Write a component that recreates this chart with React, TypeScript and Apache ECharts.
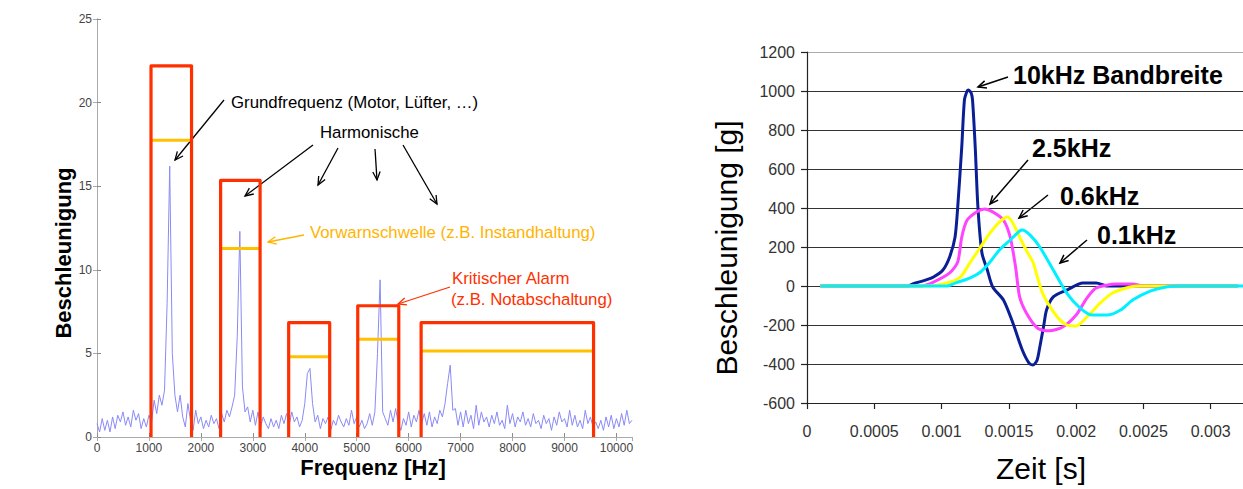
import React, { useEffect, useRef } from 'react';
import * as echarts from 'echarts';

// ---------- Left chart: vibration spectrum ----------
const FREQ_STEP_HZ = 50;
// amplitude every 50 Hz, from 0 Hz to 10300 Hz
const spectrumAmplitude = [
  0.8, 0.3, 1.1, 0.4, 1.0, 0.3, 1.2, 0.5, 1.3, 0.9, 1.5, 0.7, 1.2, 0.6, 1.6, 1.0, 1.4, 0.5, 1.1, 0.6,
  1.3, 0.9, 2.2, 1.4, 2.5, 1.9, 2.8, 8.0, 16.2, 5.0, 2.5, 1.5, 2.5, 1.2, 0.6, 2.0, 1.0, 0.4, 1.6, 0.8,
  1.2, 0.5, 1.0, 0.6, 1.3, 0.8, 1.1, 0.5, 1.4, 0.9, 1.6, 1.2, 1.8, 2.5, 6.0, 12.3, 3.0, 1.5, 1.8, 0.9,
  1.6, 0.7, 1.5, 0.6, 1.2, 0.8, 0.5, 1.1, 0.6, 1.0, 0.5, 1.3, 0.8, 1.4, 0.7, 1.5, 0.9, 1.2, 0.6, 1.0,
  2.0, 3.8, 4.1, 2.0, 0.9, 1.3, 0.5, 1.1, 0.8, 1.2, 0.4, 1.0, 0.7, 1.3, 0.9, 0.6, 1.1, 0.7, 1.6, 0.8,
  1.2, 0.6, 1.0, 0.5, 0.8, 1.4, 0.7, 1.5, 5.0, 9.4, 1.5, 1.1, 0.7, 1.6, 0.9, 1.7, 0.8, 0.4, 1.1, 0.7,
  1.5, 0.6, 1.3, 0.9, 1.6, 0.8, 1.4, 0.7, 1.5, 0.6, 1.2, 0.8, 1.6, 1.2, 2.0, 3.2, 4.3, 1.6, 1.7, 0.7,
  1.5, 0.6, 1.6, 0.8, 1.3, 0.5, 1.9, 0.7, 1.5, 0.9, 1.2, 0.6, 1.3, 0.8, 1.5, 0.7, 1.0, 0.5, 1.9, 0.8,
  1.4, 0.6, 1.2, 0.9, 1.5, 0.7, 1.1, 0.6, 1.4, 0.8, 1.0, 0.5, 1.3, 0.8, 1.1, 0.4, 1.2, 0.7, 1.5, 0.9,
  1.1, 0.6, 1.6, 0.7, 1.3, 0.6, 1.0, 0.5, 1.6, 0.8, 1.2, 0.6, 0.9, 0.5, 1.0, 0.4, 1.2, 0.6, 1.3, 0.5,
  1.1, 0.6, 1.4, 0.7, 1.6, 0.8, 1.0,
];

// monitoring bands
const bandStartHz = [1040, 2380, 3690, 5020, 6240];
const bandEndHz = [1820, 3140, 4480, 5810, 9560];
const alarmLevel = [22.2, 15.35, 6.84, 7.85, 6.84];
const warnLevel = [17.75, 11.28, 4.8, 5.84, 5.14];

// ---------- Right chart: shock pulse for different bandwidths ----------
const bandwidthLabels = ['10kHz Bandbreite', '2.5kHz', '0.6kHz', '0.1kHz'];
const pulse10k: [number, number][] = [
  [0.0001, 0], [0.00075, 0], [0.00079, 12], [0.00088, 30], [0.00094, 46], [0.00101, 82],
  [0.00106, 149], [0.0011, 250], [0.00112, 405], [0.00115, 713], [0.00117, 954], [0.00119, 1000],
  [0.0012, 1005], [0.00122, 990], [0.00123, 954], [0.00125, 713], [0.00127, 405], [0.0013, 169],
  [0.00134, 82], [0.00138, -5], [0.00146, -72], [0.00153, -190], [0.0016, -328], [0.00165, -395],
  [0.00168, -405], [0.00171, -380], [0.00173, -313], [0.00176, -200], [0.00178, -123],
  [0.00183, -56], [0.00193, -21], [0.00205, 15], [0.00215, 15], [0.00223, 0], [0.0032, 0],
];
const pulse2k5: [number, number][] = [
  [0.0001, 0], [0.00085, 0], [0.00094, 20], [0.00106, 67], [0.00112, 123], [0.00115, 251],
  [0.00119, 338], [0.00126, 380], [0.00132, 395], [0.00138, 380], [0.00146, 338], [0.00151, 251],
  [0.00155, 97], [0.00158, -56], [0.00163, -138], [0.00171, -215], [0.00176, -228], [0.0018, -230],
  [0.0019, -210], [0.002, -149], [0.00208, -62], [0.00215, -10], [0.0023, 10], [0.00242, 10],
  [0.0025, 0], [0.0032, 0],
];
const pulse0k6: [number, number][] = [
  [0.0001, 0], [0.0009, 0], [0.00106, 20], [0.00114, 46], [0.00121, 118], [0.00129, 200],
  [0.00136, 272], [0.00143, 328], [0.00149, 354], [0.00153, 323], [0.00158, 251], [0.00164, 170],
  [0.00168, 120], [0.00175, -36], [0.00186, -159], [0.00193, -200], [0.002, -205], [0.00208, -159],
  [0.00218, -87], [0.00227, -36], [0.0024, -5], [0.00248, 0], [0.0032, 0],
];
const pulse0k1: [number, number][] = [
  [0.0001, 0], [0.00104, 0], [0.0011, 15], [0.00121, 41], [0.00129, 72], [0.00136, 123],
  [0.00143, 185], [0.00151, 236], [0.00158, 282], [0.0016, 287], [0.00166, 260], [0.00173, 200],
  [0.00183, 82], [0.00193, -36], [0.00203, -113], [0.00212, -149], [0.00223, -149],
  [0.00233, -123], [0.00242, -72], [0.00255, -26], [0.00267, -5], [0.0028, 0], [0.0035, 0],
];
const pulseSeries = [pulse10k, pulse2k5, pulse0k6, pulse0k1];
const pulseColors = ['#0a1f96', '#ff44ff', '#ffff00', '#00f0ff'];

const FONT = '"Liberation Sans", Arial, sans-serif';
const RED = '#ff3000';
const ORANGE = '#ffb400';

function arrow(x1: number, y1: number, x2: number, y2: number, color: string, lw = 1.3) {
  const a = Math.atan2(y2 - y1, x2 - x1);
  const L = 9;
  const s = 0.42;
  const p1 = [x2 - L * Math.cos(a - s), y2 - L * Math.sin(a - s)];
  const p2 = [x2 - L * Math.cos(a + s), y2 - L * Math.sin(a + s)];
  return [
    { type: 'line', silent: true, shape: { x1, y1, x2, y2 }, style: { stroke: color, lineWidth: lw } },
    { type: 'polyline', silent: true, shape: { points: [p1, [x2, y2], p2] }, style: { stroke: color, lineWidth: lw, fill: null } },
  ];
}

function label(text: string, x: number, y: number, font: string, fill: string, align = 'left', rotation = 0) {
  return {
    type: 'text',
    x,
    y,
    rotation,
    silent: true,
    style: { text, font, fill, align, verticalAlign: 'middle', textAlign: align, textVerticalAlign: 'middle' },
  };
}

export default function App() {
  const ref = useRef<HTMLDivElement>(null);

  useEffect(() => {
    if (!ref.current) return;
    const chart = echarts.init(ref.current, undefined, { renderer: 'svg' });

    const spectrumData = spectrumAmplitude.map((v, i) => [i * FREQ_STEP_HZ, v]);

    const series: any[] = [
      {
        type: 'line', xAxisIndex: 0, yAxisIndex: 0, data: spectrumData, showSymbol: false,
        lineStyle: { color: '#8a8af6', width: 1 }, z: 2,
      },
    ];
    bandStartHz.forEach((s, i) => {
      series.push({
        type: 'line', xAxisIndex: 0, yAxisIndex: 0, showSymbol: false, z: 3,
        data: [[s, warnLevel[i]], [bandEndHz[i], warnLevel[i]]],
        lineStyle: { color: '#ffc000', width: 3 },
      });
    });
    bandStartHz.forEach((s, i) => {
      series.push({
        type: 'line', xAxisIndex: 0, yAxisIndex: 0, showSymbol: false, z: 4,
        data: [[s, 0], [s, alarmLevel[i]], [bandEndHz[i], alarmLevel[i]], [bandEndHz[i], 0]],
        lineStyle: { color: RED, width: 3.2, join: 'round' },
      });
    });
    pulseSeries.forEach((d, i) => {
      series.push({
        type: 'line', name: bandwidthLabels[i], xAxisIndex: 2, yAxisIndex: 2, data: d,
        showSymbol: false, smooth: 0.25, z: 3 + i,
        lineStyle: { color: pulseColors[i], width: 3 },
      });
    });

    const gray = '#8a8a8a';
    const splitColors = ['#333', '#333', '#333', '#333', '#333', '#333', '#333', '#333', '#333', '#aaa'];

    const graphics: any[] = [
      // left chart
      label('Beschleunigung', 63, 253, `bold 22px ${FONT}`, '#000', 'center', Math.PI / 2),
      label('Frequenz [Hz]', 373, 467, `bold 22px ${FONT}`, '#000', 'center'),
      label('Grundfrequenz (Motor, Lüfter, …)', 231, 102, `16.8px ${FONT}`, '#000'),
      label('Harmonische', 320, 132, `16.8px ${FONT}`, '#000'),
      label('Vorwarnschwelle (z.B. Instandhaltung)', 310, 232, `16.8px ${FONT}`, ORANGE),
      label('Kritischer Alarm', 452, 278, `16.8px ${FONT}`, RED),
      label('(z.B. Notabschaltung)', 451, 299, `16.8px ${FONT}`, RED),
      ...arrow(224, 100, 175, 160, '#000'),
      ...arrow(313, 145, 245, 196, '#000'),
      ...arrow(338, 148, 318, 185, '#000'),
      ...arrow(375, 149, 377, 180, '#000'),
      ...arrow(403, 145, 437, 204, '#000'),
      ...arrow(304, 235, 268, 242, ORANGE),
      ...arrow(450, 287, 398, 304, RED),
      // right chart
      label('Beschleunigung [g]', 726, 248, `30px ${FONT}`, '#000', 'center', Math.PI / 2),
      label('Zeit [s]', 1041, 468, `30px ${FONT}`, '#000', 'center'),
      label(bandwidthLabels[0], 1013, 75, `bold 25px ${FONT}`, '#000'),
      label(bandwidthLabels[1], 1032, 148, `bold 25px ${FONT}`, '#000'),
      label(bandwidthLabels[2], 1060, 196, `bold 25px ${FONT}`, '#000'),
      label(bandwidthLabels[3], 1097, 235, `bold 25px ${FONT}`, '#000'),
      ...arrow(1008, 77, 978, 87, '#000', 1.5),
      ...arrow(1028, 160, 990, 204, '#000', 1.5),
      ...arrow(1048, 195, 1019, 218, '#000', 1.5),
      ...arrow(1087, 240, 1060, 263, '#000', 1.5),
    ];

    chart.setOption({
      animation: false,
      backgroundColor: '#fff',
      textStyle: { fontFamily: FONT },
      grid: [
        { left: 97, top: 19, width: 535, height: 418, outerBoundsMode: 'none', containLabel: false },
        { left: 807, top: 52, width: 471, height: 351, outerBoundsMode: 'none', containLabel: false },
      ],
      xAxis: [
        {
          gridIndex: 0, type: 'value', min: 0, max: 10300, interval: 1000, position: 'bottom',
          axisLine: { lineStyle: { color: gray } },
          axisTick: { inside: true, length: 4, lineStyle: { color: gray } },
          axisLabel: { color: '#444', fontSize: 12, margin: 5, showMaxLabel: false, fontFamily: FONT, formatter: (v: number) => String(v) },
          splitLine: { show: false },
        },
        {
          gridIndex: 0, type: 'value', min: 0, max: 10300, interval: 1000, position: 'top',
          axisLine: { lineStyle: { color: '#aaa' } },
          axisTick: { inside: true, length: 4, lineStyle: { color: '#aaa' } },
          axisLabel: { show: false },
          splitLine: { show: false },
        },
        {
          gridIndex: 1, type: 'value', min: 0, max: 0.0035, interval: 0.0005, position: 'bottom',
          axisLine: { onZero: false, lineStyle: { color: '#222', width: 1.2 } },
          axisTick: { length: 6, lineStyle: { color: '#222', width: 1.2 } },
          axisLabel: {
            color: '#333', fontSize: 16, margin: 20, fontFamily: FONT, showMaxLabel: false,
            formatter: (v: number) => (v === 0 ? '0' : String(parseFloat(v.toFixed(5)))),
          },
          splitLine: { show: false },
        },
      ],
      yAxis: [
        {
          gridIndex: 0, type: 'value', min: 0, max: 25, interval: 5, position: 'left',
          axisLine: { show: true, lineStyle: { color: gray } },
          axisTick: { show: true, inside: true, length: 4, lineStyle: { color: gray } },
          axisLabel: { color: '#444', fontSize: 12, margin: 5, fontFamily: FONT, formatter: (v: number) => String(v) },
          splitLine: { show: false },
        },
        {
          gridIndex: 0, type: 'value', min: 0, max: 25, interval: 5, position: 'right',
          axisLine: { show: true, lineStyle: { color: '#aaa' } },
          axisTick: { show: true, inside: true, length: 4, lineStyle: { color: '#aaa' } },
          axisLabel: { show: false },
          splitLine: { show: false },
        },
        {
          gridIndex: 1, type: 'value', min: -600, max: 1200, interval: 200, position: 'left',
          axisLine: { show: true, onZero: false, lineStyle: { color: '#222', width: 1.2 } },
          axisTick: { show: true, length: 6, lineStyle: { color: '#222', width: 1.2 } },
          axisLabel: { color: '#333', fontSize: 16, margin: 12, fontFamily: FONT, formatter: (v: number) => String(v) },
          splitLine: { show: true, lineStyle: { color: splitColors, width: 1.2 } },
        },
      ],
      series,
      graphic: { elements: graphics },
    });

    return () => chart.dispose();
  }, []);

  return (
    <div
      ref={ref}
      style={{ position: 'fixed', left: 0, top: 0, width: 1243, height: 489, background: '#fff', overflow: 'hidden' }}
    />
  );
}
